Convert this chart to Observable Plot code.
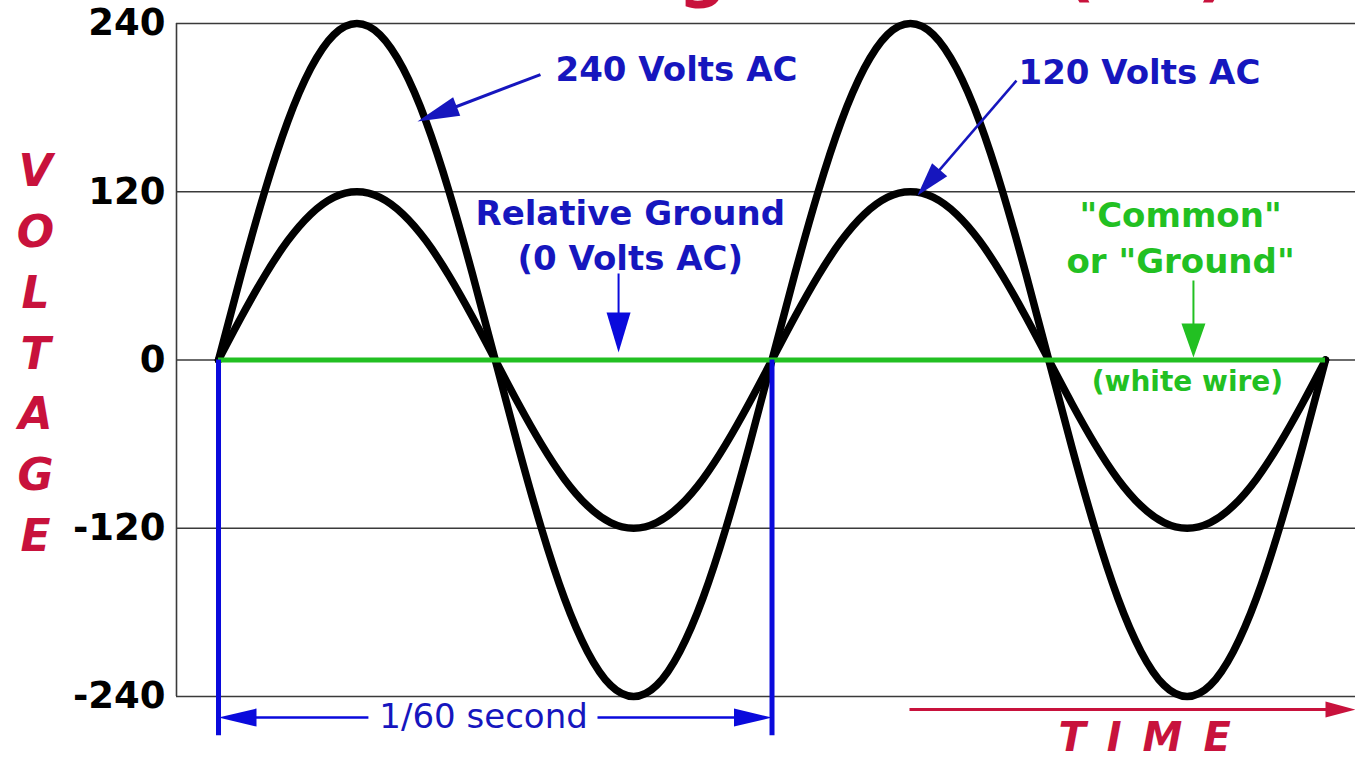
<!DOCTYPE html>
<html>
<head>
<meta charset="utf-8">
<script src="https://cdn.jsdelivr.net/npm/d3@7"></script>
<script src="https://cdn.jsdelivr.net/npm/@observablehq/plot@0.6"></script>
<style>
  html, body { margin: 0; padding: 0; background: #fff; }
  #chart svg { display: block; }
</style>
</head>
<body>
<div id="chart"></div>
<script>
// ---- data ----
// phase angle (degrees) of the AC cycle; 0..360 = 1/60 second
const phaseDeg = [0,15,30,45,60,75,90,105,120,135,150,165,180,195,210,225,240,255,270,285,300,315,330,345,360,
                  375,390,405,420,435,450,465,480,495,510,525,540,555,570,585,600,615,630,645,660,675,690,705,720];
// line-to-line (240 V) waveform
const volts240 = [0,62,120,170,208,232,240,232,208,170,120,62,0,-62,-120,-170,-208,-232,-240,-232,-208,-170,-120,-62,0,
                  62,120,170,208,232,240,232,208,170,120,62,0,-62,-120,-170,-208,-232,-240,-232,-208,-170,-120,-62,0];
// line-to-neutral (120 V) waveform
const volts120 = [0,31,60,85,104,116,120,116,104,85,60,31,0,-31,-60,-85,-104,-116,-120,-116,-104,-85,-60,-31,0,
                  31,60,85,104,116,120,116,104,85,60,31,0,-31,-60,-85,-104,-116,-120,-116,-104,-85,-60,-31,0];
const groundVolts = [0];
const cycleMarks = [0, 360];
const yTicks = [240, 120, 0, -120, -240];

const titleText = "Voltage Levels (AC)";
const yTitle = "V\nO\nL\nT\nA\nG\nE";
const xTitle = "TIME";
const label240 = "240 Volts AC";
const label120 = "120 Volts AC";
const labelGround = "Relative Ground\n(0 Volts AC)";
const labelCommon = "\"Common\"\nor \"Ground\"";
const labelWhite = "(white wire)";
const labelPeriod = "1/60 second";

// ---- layout ----
const W = 1355, H = 760;
const mL = 176, mR = 0, mT = 23, mB = 64;
const xDomain = [-27.32, 739.5];
const yDomain = [-240, 240];
const kx = (W - mL - mR) / (xDomain[1] - xDomain[0]);
const ky = (H - mT - mB) / (yDomain[1] - yDomain[0]);

const BLUE_TXT = "#1616be";
const BLUE_LINE = "#0a0adc";
const GREEN = "#22c022";
const RED = "#c8123c";
const FONT = "DejaVu Sans";

const rows = [];
phaseDeg.forEach((p, i) => {
  rows.push({phase: p, volts: volts240[i], series: "240"});
  rows.push({phase: p, volts: volts120[i], series: "120"});
});

// arrowhead symbol: tip at origin, body extending "down"
function head(len, half) {
  return { draw(ctx) { ctx.moveTo(0, 0); ctx.lineTo(-half, len); ctx.lineTo(half, len); ctx.closePath(); } };
}
function arrowMarks(a) {
  const dx = (a.x2 - a.x1) * kx, dy = -(a.y2 - a.y1) * ky;
  const L = Math.hypot(dx, dy);
  const ang = Math.atan2(dx, -dy) * 180 / Math.PI;
  const back = a.len * 0.6;
  const ex = a.x2 - (dx / L) * back / kx;
  const ey = a.y2 + (dy / L) * back / ky;
  return [
    Plot.link([a], {x1: "x1", y1: "y1", x2: () => ex, y2: () => ey, stroke: a.color, strokeWidth: a.w}),
    Plot.dot([a], {x: "x2", y: "y2", symbol: head(a.len, a.half), rotate: ang, fill: a.color, stroke: "none"})
  ];
}

const arrows = [
  {x1: 209.4, y1: 203.6, x2: 129.4, y2: 170.1, color: BLUE_TXT, w: 3, len: 42, half: 10},
  {x1: 519.0, y1: 199.3, x2: 454.6, y2: 117.3, color: BLUE_TXT, w: 2.5, len: 34, half: 10},
  {x1: 260.2, y1: 61.7, x2: 260.2, y2: 5.4, color: BLUE_LINE, w: 2, len: 40, half: 12},
  {x1: 634.1, y1: 56.7, x2: 634.1, y2: 1.8, color: GREEN, w: 2, len: 34, half: 12},
  {x1: 97.5, y1: -255, x2: 0, y2: -255, color: BLUE_LINE, w: 2.5, len: 38, half: 9},
  {x1: 246.5, y1: -255, x2: 360, y2: -255, color: BLUE_LINE, w: 2.5, len: 38, half: 9},
  {x1: 449.4, y1: -249.3, x2: 739.5, y2: -249.3, color: RED, w: 3, len: 30, half: 8}
];

const chart = Plot.plot({
  width: W, height: H,
  marginLeft: mL, marginRight: mR, marginTop: mT, marginBottom: mB,
  x: {domain: xDomain, axis: null},
  y: {domain: yDomain},
  style: {fontFamily: FONT, background: "white"},
  marks: [
    Plot.ruleY(yTicks, {stroke: "#3a3a3a", strokeWidth: 1.6}),
    Plot.ruleX([xDomain[0]], {stroke: "#3a3a3a", strokeWidth: 1.6}),
    Plot.axisY({ticks: yTicks, tickSize: 0, tickPadding: 11, tickFormat: d => String(d),
      fontSize: 37, fontWeight: "bold", fontFamily: FONT, color: "black", label: null}),
    Plot.line(rows, {x: "phase", y: "volts", z: "series", curve: "natural",
      stroke: "black", strokeWidth: 7.5, strokeLinejoin: "round", strokeLinecap: "round"}),
    Plot.ruleY(groundVolts, {x1: phaseDeg[0], x2: phaseDeg[phaseDeg.length - 1], stroke: GREEN, strokeWidth: 5}),
    Plot.ruleX(cycleMarks, {y1: 0, y2: -268, stroke: BLUE_LINE, strokeWidth: 5}),
    ...arrows.flatMap(arrowMarks),
    // texts
    Plot.text([titleText], {text: d => d, frameAnchor: "top-right", dx: -127, dy: -30, lineAnchor: "bottom",
      textAnchor: "end", fontSize: 68, fontWeight: "bold", fill: RED}),
    Plot.text([yTitle], {text: d => d, frameAnchor: "left", dx: -141, dy: -11, textAnchor: "middle",
      lineHeight: 1.386, fontSize: 44, fontWeight: "bold", fontStyle: "italic", fill: RED}),
    Plot.text([xTitle], {text: d => d, x: 546.3, y: -270, textAnchor: "start", fontSize: 40,
      fontWeight: "bold", fontStyle: "italic", fill: RED}),
    Plot.text([label240], {text: d => d, x: 219.2, y: 206.5, textAnchor: "start", fontSize: 34, fontWeight: "bold", fill: BLUE_TXT}),
    Plot.text([label120], {text: d => d, x: 520.3, y: 204.3, textAnchor: "start", fontSize: 34, fontWeight: "bold", fill: BLUE_TXT}),
    Plot.text([labelGround], {text: d => d, x: 267.8, y: 90.6, lineHeight: 1.32, fontSize: 34, fontWeight: "bold", fill: BLUE_TXT}),
    Plot.text([labelCommon], {text: d => d, x: 625.7, y: 88.8, lineHeight: 1.35, fontSize: 34, fontWeight: "bold", fill: GREEN}),
    Plot.text([labelWhite], {text: d => d, x: 630.2, y: -15.5, fontSize: 28, fontWeight: "bold", fill: GREEN}),
    Plot.text([labelPeriod], {text: d => d, x: 172.4, y: -255, fontSize: 34, fill: BLUE_TXT})
  ]
});
d3.select(chart).selectAll("text").filter(function() { return this.textContent === xTitle; })
  .attr("letter-spacing", "21px");
document.getElementById("chart").appendChild(chart);
</script>
</body>
</html>
